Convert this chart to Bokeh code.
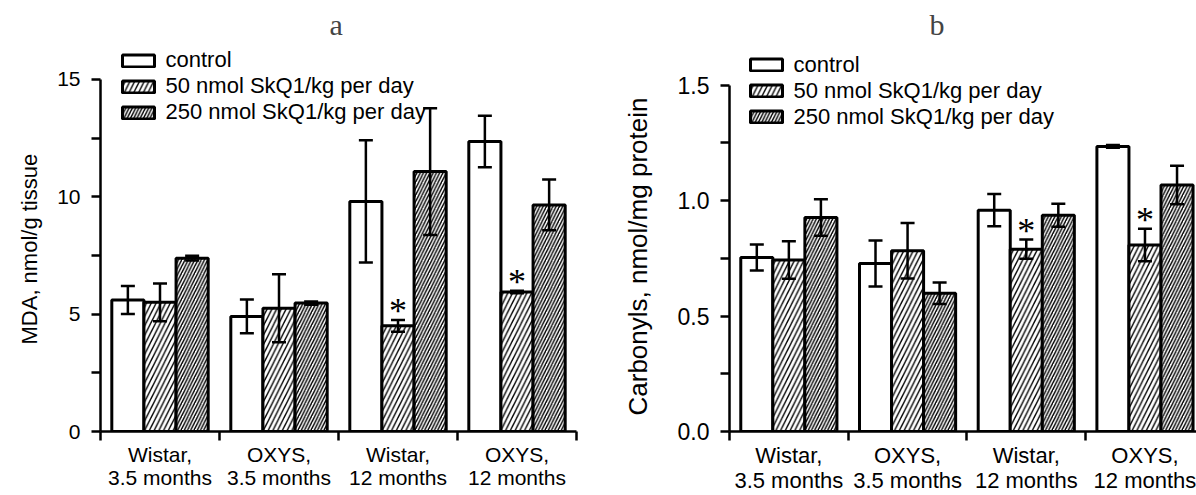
from bokeh.plotting import figure
from bokeh.models import (ColumnDataSource, Whisker, TeeHead, FixedTicker, Legend,
                          LegendItem, LinearAxis, Range1d, Title)
from bokeh.layouts import row
from bokeh.embed import file_html
from bokeh.resources import INLINE
from bokeh.core.properties import value

# ---------------- data ----------------
groups = ["Wistar,\n3.5 months", "OXYS,\n3.5 months", "Wistar,\n12 months", "OXYS,\n12 months"]
series = ["control", "50 nmol SkQ1/kg per day", "250 nmol SkQ1/kg per day"]

mda_control = [5.6, 4.9, 9.8, 12.35]
mda_control_err = [0.6, 0.72, 2.6, 1.1]
mda_50 = [5.5, 5.25, 4.5, 5.94]
mda_50_err = [0.8, 1.45, 0.25, 0.05]
mda_250 = [7.38, 5.47, 11.07, 9.65]
mda_250_err = [0.1, 0.07, 2.7, 1.08]
mda_signif = [False, False, True, True]      # asterisk over the 50 nmol bar

carb_control = [0.754, 0.728, 0.959, 1.235]
carb_control_err = [0.056, 0.1, 0.07, 0.006]
carb_50 = [0.743, 0.783, 0.79, 0.808]
carb_50_err = [0.081, 0.12, 0.042, 0.07]
carb_250 = [0.927, 0.599, 0.937, 1.068]
carb_250_err = [0.079, 0.047, 0.05, 0.083]
carb_signif = [False, False, True, True]

mda_ticks = [0, 5, 10, 15]
mda_minor = [2.5, 7.5, 12.5]
mda_tick_labels = ["0", "5", "10", "15"]
carb_ticks = [0.0, 0.5, 1.0, 1.5]
carb_minor = [0.25, 0.75, 1.25]
carb_tick_labels = ["0.0", "0.5", "1.0", "1.5"]

# ---------------- style ----------------
SANS = "Liberation Sans"
SERIF = "Liberation Serif"
OFFS = [-0.27, 0.0, 0.27]
BAR_W = 0.27
HATCH = [None, 9.5, 6.5]
FIG_H = 495
TOP_B = 40
BOT_B = 62
FRAME_H = FIG_H - TOP_B - BOT_B


def make_panel(letter, ylabel, vals, errs, signif, yticks, yminor, ylabels,
               px_per_unit, width, left_b, right_b, x_end, title_offset,
               legend_loc, ytick_font, xtick_font, ylabel_font, ylabel_offset,
               ylabel_standoff):
    y_end = FRAME_H / px_per_unit
    p = figure(width=width, height=FIG_H, output_backend="svg", toolbar_location=None,
               x_range=Range1d(0, x_end), y_range=Range1d(0, y_end),
               x_axis_type=None, y_axis_type=None, title=letter,
               min_border_left=left_b, min_border_right=right_b,
               min_border_top=TOP_B, min_border_bottom=BOT_B)
    p.outline_line_color = None
    p.background_fill_color = "white"
    p.title.text_font = SERIF
    p.title.text_font_size = "30px"
    p.title.text_font_style = "normal"
    p.title.align = "left"
    p.title.offset = title_offset
    p.title.standoff = 0

    # x axis: labels at group centres, tick marks at group borders
    xaxis = LinearAxis(
        ticker=FixedTicker(ticks=[i + 0.5 for i in range(len(groups))],
                           minor_ticks=list(range(len(groups) + 1))),
        major_label_overrides={i + 0.5: g for i, g in enumerate(groups)},
        bounds=(0, len(groups)),
        axis_line_width=2.5, axis_line_color="black",
        major_tick_in=0, major_tick_out=9, major_tick_line_color=None,
        minor_tick_in=0, minor_tick_out=9, minor_tick_line_width=2.5,
        minor_tick_line_color="black",
        major_label_standoff=2,
        major_label_text_font=SANS, major_label_text_font_size=xtick_font,
        major_label_text_color="black", major_label_text_line_height=1.0)
    p.add_layout(xaxis, "below")

    yaxis = LinearAxis(
        ticker=FixedTicker(ticks=yticks, minor_ticks=yminor),
        major_label_overrides={t: l for t, l in zip(yticks, ylabels)},
        bounds=(yticks[0], yticks[-1]),
        axis_line_width=2.5, axis_line_color="black",
        major_tick_in=0, major_tick_out=9, major_tick_line_width=2.5,
        minor_tick_in=0, minor_tick_out=9, minor_tick_line_width=2.5,
        minor_tick_line_color="black",
        major_label_standoff=11,
        major_label_text_font=SANS, major_label_text_font_size=ytick_font,
        major_label_text_color="black")
    p.add_layout(yaxis, "left")

    # y axis title placed beside the axis
    p.add_layout(Title(text=ylabel, align="left", offset=ylabel_offset,
                       standoff=ylabel_standoff, text_font=SANS,
                       text_font_size=ylabel_font, text_font_style="normal",
                       text_color="black"), "left")

    items = []
    for k, (v, e) in enumerate(zip(vals, errs)):
        xs = [i + 0.5 + OFFS[k] for i in range(len(groups))]
        src = ColumnDataSource(dict(x=xs, top=v,
                                    upper=[a + b for a, b in zip(v, e)],
                                    lower=[a - b for a, b in zip(v, e)]))
        kw = dict(x="x", top="top", width=BAR_W, source=src,
                  fill_color="white", line_color="black", line_width=3)
        if HATCH[k] is not None:
            kw.update(hatch_pattern="/", hatch_scale=HATCH[k], hatch_weight=1.4,
                      hatch_color="black")
        r = p.vbar(**kw)
        items.append(LegendItem(label=series[k], renderers=[r]))
        w = Whisker(base="x", upper="upper", lower="lower", source=src,
                    line_width=2.5, line_color="black", level="annotation",
                    upper_head=TeeHead(size=14, line_width=2.5, line_color="black"),
                    lower_head=TeeHead(size=14, line_width=2.5, line_color="black"))
        p.add_layout(w)

    # significance asterisks above the 50 nmol bars
    ax, ay = [], []
    gap_px = 9.0
    for i, s in enumerate(signif):
        if s:
            ax.append(i + 0.5 + OFFS[1])
            ay.append(vals[1][i] + errs[1][i] + gap_px / px_per_unit)
    p.text(x=ax, y=ay, text=["*"] * len(ax), text_font=value(SERIF),
           text_font_size="36px", text_align="center", text_baseline="alphabetic",
           text_color="black")

    legend = Legend(items=items, location=legend_loc, glyph_width=40, glyph_height=15,
                    label_height=24, spacing=0, padding=0, margin=0,
                    label_standoff=8, label_text_font=SANS, label_text_font_size="22px",
                    label_text_color="black", border_line_color=None,
                    background_fill_alpha=0)
    p.add_layout(legend)
    return p


pa = make_panel("a", "MDA, nmol/g tissue",
                [mda_control, mda_50, mda_250],
                [mda_control_err, mda_50_err, mda_250_err],
                mda_signif, mda_ticks, mda_minor, mda_tick_labels,
                px_per_unit=23.6, width=598, left_b=100, right_b=22, x_end=4,
                title_offset=229, legend_loc=(17.5, 306),
                ytick_font="21px", xtick_font="21px", ylabel_font="22px",
                ylabel_offset=87, ylabel_standoff=26)

pb = make_panel("b", "Carbonyls, nmol/mg protein",
                [carb_control, carb_50, carb_250],
                [carb_control_err, carb_50_err, carb_250_err],
                carb_signif, carb_ticks, carb_minor, carb_tick_labels,
                px_per_unit=232, width=598, left_b=131, right_b=0, x_end=3.934,
                title_offset=200, legend_loc=(16.5, 301.5),
                ytick_font="23px", xtick_font="22px", ylabel_font="26px",
                ylabel_offset=16, ylabel_standoff=44)

layout = row(pa, pb)
open("out.html", "w").write(file_html(layout, INLINE))
